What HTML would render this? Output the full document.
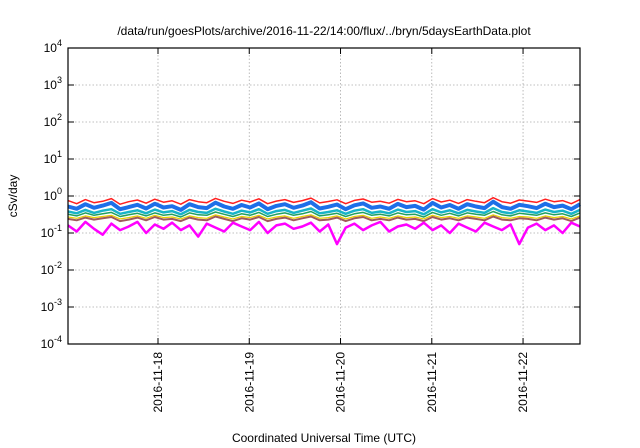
<!DOCTYPE html>
<html><head><meta charset="utf-8"><style>
body{margin:0;background:#fff}
svg{display:block;font-family:"Liberation Sans",sans-serif}
</style></head><body>
<svg id="chart" width="640" height="448">
<rect width="640" height="448" fill="#fff"/>
<text x="324" y="35" font-size="12" text-anchor="middle">/data/run/goesPlots/archive/2016-11-22/14:00/flux/../bryn/5daysEarthData.plot</text>
<g id="grid"></g>
<g id="series"></g>
<rect x="68" y="48" width="512" height="296" fill="none" stroke="#000" stroke-width="1.2"/>
<g id="axes"></g>
<text x="17" y="196" font-size="12" text-anchor="middle" transform="rotate(-90 17 196)">cSv/day</text>
<text x="324" y="442" font-size="12" text-anchor="middle">Coordinated Universal Time (UTC)</text>
</svg>
<script>
const xTickDays=[18,19,20,21,22];
const xTickLabels=["2016-11-18","2016-11-19","2016-11-20","2016-11-21","2016-11-22"];
const yTickExps=[-4,-3,-2,-1,0,1,2,3,4];
const seriesNames=["red","blue","cyan","green","yellow","brown","magenta"];
const seriesColors=["#ff2020","#1e6fe8","#18b4c8","#20a060","#e8d000","#a05a5a","#ff00ff"];
const redVals=[0.75,0.62,0.8,0.66,0.72,0.85,0.6,0.7,0.78,0.64,0.82,0.68,0.74,0.6,0.8,0.7,0.66,0.86,0.72,0.63,0.77,0.69,0.84,0.62,0.73,0.8,0.67,0.75,0.88,0.65,0.71,0.79,0.62,0.76,0.83,0.68,0.72,0.64,0.81,0.7,0.74,0.62,0.85,0.69,0.77,0.63,0.8,0.72,0.66,0.9,0.7,0.64,0.78,0.73,0.67,0.82,0.7,0.75,0.62,0.8];
const blueVals=[0.52,0.45,0.6,0.48,0.55,0.65,0.44,0.5,0.58,0.46,0.62,0.49,0.53,0.42,0.6,0.5,0.47,0.66,0.52,0.45,0.57,0.49,0.63,0.44,0.54,0.6,0.48,0.55,0.68,0.46,0.51,0.59,0.44,0.56,0.63,0.48,0.52,0.45,0.61,0.5,0.54,0.43,0.65,0.49,0.57,0.45,0.6,0.52,0.47,0.7,0.5,0.45,0.58,0.53,0.47,0.62,0.5,0.55,0.44,0.6];
const cyanVals=[0.38,0.34,0.42,0.35,0.4,0.44,0.33,0.37,0.41,0.34,0.43,0.36,0.39,0.32,0.42,0.37,0.35,0.45,0.38,0.33,0.4,0.36,0.44,0.33,0.39,0.42,0.35,0.4,0.46,0.34,0.37,0.41,0.33,0.4,0.44,0.35,0.38,0.34,0.43,0.37,0.39,0.32,0.44,0.36,0.41,0.34,0.42,0.38,0.35,0.47,0.37,0.34,0.41,0.38,0.35,0.43,0.37,0.4,0.33,0.42];
const greenVals=[0.32,0.29,0.35,0.3,0.33,0.36,0.28,0.31,0.34,0.29,0.35,0.3,0.32,0.27,0.35,0.31,0.3,0.37,0.32,0.28,0.33,0.3,0.36,0.28,0.32,0.35,0.3,0.33,0.38,0.29,0.31,0.34,0.28,0.33,0.36,0.3,0.32,0.29,0.35,0.31,0.32,0.27,0.36,0.3,0.34,0.29,0.35,0.32,0.3,0.38,0.31,0.29,0.34,0.32,0.3,0.35,0.31,0.33,0.28,0.35];
const yellowVals=[0.27,0.25,0.29,0.26,0.28,0.3,0.24,0.26,0.29,0.25,0.3,0.26,0.27,0.24,0.29,0.26,0.25,0.31,0.27,0.24,0.28,0.26,0.3,0.24,0.27,0.29,0.25,0.28,0.31,0.25,0.26,0.29,0.24,0.28,0.3,0.25,0.27,0.25,0.29,0.26,0.27,0.24,0.3,0.26,0.28,0.25,0.29,0.27,0.25,0.31,0.26,0.25,0.28,0.27,0.25,0.29,0.26,0.28,0.24,0.29];
const brownVals=[0.24,0.22,0.26,0.23,0.25,0.27,0.21,0.23,0.26,0.22,0.27,0.23,0.24,0.21,0.26,0.23,0.22,0.28,0.24,0.21,0.25,0.23,0.27,0.21,0.24,0.26,0.22,0.25,0.28,0.22,0.23,0.26,0.21,0.25,0.27,0.22,0.24,0.22,0.26,0.23,0.24,0.21,0.27,0.23,0.25,0.22,0.26,0.24,0.22,0.28,0.23,0.22,0.25,0.24,0.22,0.26,0.23,0.25,0.21,0.26];
const magentaVals=[0.16,0.11,0.2,0.13,0.09,0.18,0.12,0.15,0.2,0.1,0.17,0.13,0.19,0.12,0.16,0.08,0.18,0.14,0.11,0.19,0.15,0.12,0.2,0.1,0.16,0.18,0.13,0.15,0.19,0.11,0.17,0.05,0.14,0.18,0.12,0.16,0.2,0.11,0.15,0.17,0.13,0.19,0.12,0.16,0.1,0.18,0.14,0.11,0.19,0.15,0.12,0.17,0.05,0.14,0.18,0.12,0.16,0.1,0.19,0.15];
const allSeries=[redVals,blueVals,cyanVals,greenVals,yellowVals,brownVals,magentaVals];
const widths=[1.5,4,2.5,1.5,1.2,2,2.5];
const drawOrder=[0,1,2,3,4,5,6];
const dayStart=17.014, dayEnd=22.624;
const L=68,R=580,T=48,B=344;
const xs=d=>L+(d-dayStart)/(dayEnd-dayStart)*(R-L);
const ys=v=>B-(Math.log10(v)+4)/8*(B-T);
const NS="http://www.w3.org/2000/svg";
const grid=document.getElementById('grid'),axes=document.getElementById('axes'),ser=document.getElementById('series');
function mk(tag,attrs,parent){const e=document.createElementNS(NS,tag);for(const k in attrs)e.setAttribute(k,attrs[k]);parent.appendChild(e);return e;}
yTickExps.forEach(e=>{
  const y=ys(Math.pow(10,e));
  if(e>-4&&e<4){const g=mk('line',{x1:L,x2:R,y1:y,y2:y,stroke:'#aaa','stroke-dasharray':'1.5,2','stroke-width':0.8},grid);
  
  }
  const t1=mk('line',{x1:L,x2:L+6,y1:y,y2:y,stroke:'#000'},axes);
  
  
  mk('line',{x1:R,x2:R-6,y1:y,y2:y,stroke:'#000'},axes);
  const tx=mk('text',{x:L-6,y:y+4,'font-size':12,'text-anchor':'end'},axes);
  
  
  tx.textContent='10';
  const sp=mk('tspan',{dy:-6,'font-size':9},tx);sp.textContent=String(e);
});
xTickDays.forEach((d,i)=>{
  const x=xs(d);
  const g=mk('line',{x1:x,x2:x,y1:T,y2:B,stroke:'#aaa','stroke-dasharray':'1.5,2','stroke-width':0.8},grid);
  
  
  mk('line',{x1:x,x2:x,y1:B,y2:B-6,stroke:'#000'},axes);
  mk('line',{x1:x,x2:x,y1:T,y2:T+6,stroke:'#000'},axes);
  const tx=mk('text',{x:x+4,y:352,'font-size':12,'text-anchor':'end',transform:`rotate(-90 ${x+4} 352)`},axes);
  
  
  tx.textContent=xTickLabels[i];
});
drawOrder.forEach(si=>{
  const vals=allSeries[si];const n=vals.length;
  const pts=vals.map((v,i)=>xs(dayStart+(dayEnd-dayStart)*i/(n-1)).toFixed(1)+','+ys(v).toFixed(1)).join(' ');
  const p=mk('polyline',{points:pts,fill:'none',stroke:seriesColors[si],'stroke-width':widths[si],'stroke-linejoin':'round'},ser);
  
  
});
</script>
</body></html>
